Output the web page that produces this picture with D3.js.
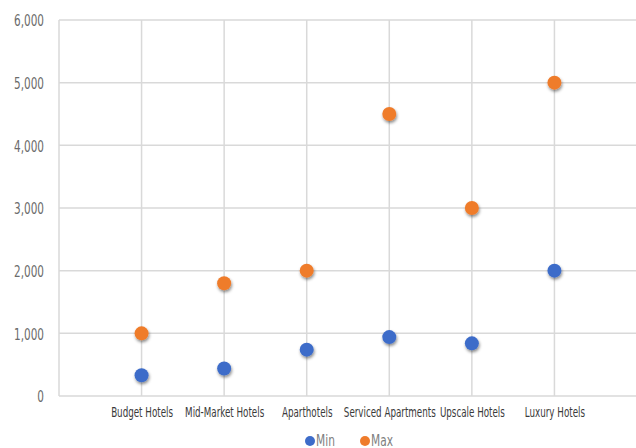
<!DOCTYPE html>
<html><head><meta charset="utf-8">
<script src="https://cdn.jsdelivr.net/npm/d3@7"></script>
<style>
html,body{margin:0;padding:0;background:#fff;}
svg{display:block;}
text{font-family:'DejaVu Sans Condensed','DejaVu Sans',sans-serif;font-stretch:condensed;}
</style></head>
<body>
<svg id="chart" width="636" height="448"></svg>
<script>
const categories = ["Budget Hotels","Mid-Market Hotels","Aparthotels","Serviced Apartments","Upscale Hotels","Luxury Hotels"];
const minValues = [330, 440, 740, 940, 840, 2000];
const maxValues = [1000, 1800, 2000, 4500, 3000, 5000];
const yTicks = [0, 1000, 2000, 3000, 4000, 5000, 6000];
const seriesNames = ["Min", "Max"];
const seriesColors = ["#3d6cc9", "#ef7c2b"];

(function(){
const svg = d3.select("#chart");
const pLeft = 59, pRight = 637, pTop = 20, pBottom = 396;

const defs = svg.append("defs");
const f = defs.append("filter").attr("id","shadow").attr("x","-50%").attr("y","-50%").attr("width","200%").attr("height","200%");
f.append("feDropShadow").attr("dx",0.8).attr("dy",2).attr("stdDeviation",1.6).attr("flood-color","#000").attr("flood-opacity",0.45);

const x = d3.scalePoint().domain(categories).range([pLeft, pRight]).padding(1);
const y = d3.scaleLinear().domain([0, 6000]).range([pBottom, pTop]);

const grid = svg.append("g").attr("stroke","#d9d9d9").attr("stroke-width",1.5);
grid.selectAll("line.h").data(yTicks).enter().append("line")
  .attr("x1", pLeft).attr("x2", 636).attr("y1", d=>y(d)).attr("y2", d=>y(d));
grid.append("line").attr("x1",pLeft).attr("x2",pLeft).attr("y1",pTop).attr("y2",pBottom);
grid.selectAll("line.v").data(categories).enter().append("line")
  .attr("x1", d=>x(d)).attr("x2", d=>x(d)).attr("y1", pTop).attr("y2", pBottom);

// condense a group of texts so a reference text reaches a target width
function condense(sel, refWidth, targetWidth){
  const s = targetWidth / refWidth;
  sel.attr("transform", function(){
    const ax = +this.getAttribute("x") || 0;
    return `translate(${ax},0) scale(${s},1) translate(${-ax},0)`;
  });
}

const yAxis = d3.axisLeft(y).tickValues(yTicks).tickSize(0).tickPadding(0).tickFormat(d3.format(","));
const ya = svg.append("g").attr("transform", `translate(${pLeft-15},0)`).call(yAxis);
ya.select(".domain").remove();
const yt = ya.selectAll("text").attr("fill","#6b6b6b").attr("font-size", 16.5).attr("dy","0.36em");
let refY = 0; yt.each(function(d){ if(d===6000) refY = this.getComputedTextLength(); });
condense(yt, refY, 30);

const xAxis = d3.axisBottom(x).tickSize(0).tickPadding(0);
const xa = svg.append("g").attr("transform", `translate(0,${pBottom})`).call(xAxis);
xa.select(".domain").remove();
const xt = xa.selectAll("text").attr("fill","#3a3a3a").attr("font-size", 14.4).attr("y", 21).attr("dy", 0);
let refX = 0; xt.each(function(d){ if(d==="Serviced Apartments") refX = this.getComputedTextLength(); });
condense(xt, refX, 92);

const series = [minValues, maxValues];
series.forEach((vals, si) => {
  svg.append("g").selectAll("circle").data(vals).enter().append("circle")
    .attr("cx", (d,i)=>x(categories[i]))
    .attr("cy", d=>y(d))
    .attr("r", 7)
    .attr("fill", seriesColors[si])
    .attr("filter","url(#shadow)");
});

const legendX = [310, 365];
const lg = svg.append("g");
seriesNames.forEach((n, i) => {
  lg.append("circle").attr("cx", legendX[i]).attr("cy", 441).attr("r", 5).attr("fill", seriesColors[i]);
});
const lt = lg.selectAll("text.l").data(seriesNames).enter().append("text")
  .attr("x", (d,i)=>legendX[i] + 6).attr("y", 446).attr("font-size", 15).attr("fill","#7f7f7f").text(d=>d);
let refL = 0; lt.each(function(d){ if(d==="Max") refL = this.getComputedTextLength(); });
condense(lt, refL, 22);
})();
</script>
</body></html>
